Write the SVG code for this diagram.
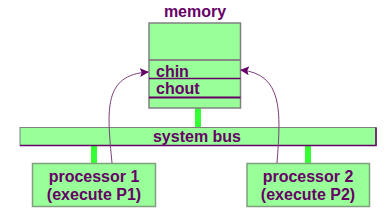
<svg xmlns="http://www.w3.org/2000/svg" width="388" height="213" viewBox="0 0 388 213">
<style>
text{font-family:"Liberation Sans",Arial,sans-serif;font-weight:bold;font-size:16px;fill:#660066}
.box{fill:#99ff99;stroke:#808080;stroke-width:1.5}
.pbox{fill:#99ff99;stroke:#7f9f7f;stroke-width:1.5}
.link{fill:#33ff33}
.conn{fill:none;stroke:#7a3f7a;stroke-width:1}
</style>
<defs>
<marker id="ah" viewBox="0 0 10 10" refX="9" refY="5" markerWidth="9" markerHeight="9" markerUnits="userSpaceOnUse" orient="auto">
<path d="M0,0 L10,5 L0,10 L2,5 z" fill="#660066"/>
</marker>
</defs>
<g id="links">
<rect class="link" x="195" y="108" width="6" height="19"/>
<rect class="link" x="91" y="145" width="6" height="18"/>
<rect class="link" x="305" y="145" width="6" height="18"/>
</g>
<g id="memory">
<text x="195" y="17" text-anchor="middle">memory</text>
<rect class="box" x="149" y="23" width="91.5" height="85"/>
<line x1="149" y1="60" x2="240.5" y2="60" stroke="#806080" stroke-width="1.5"/>
<line x1="149" y1="78.5" x2="240.5" y2="78.5" stroke="#660066" stroke-width="1.5"/>
<line x1="149" y1="97.5" x2="240.5" y2="97.5" stroke="#660066" stroke-width="2"/>
<text x="156" y="76.5">chin</text>
<text x="156" y="94">chout</text>
</g>
<g id="bus">
<rect x="20" y="127.5" width="356" height="18" fill="#99ff99" stroke="#808080" stroke-width="1"/>
<path d="M20,145.5 H376 V127.5" fill="none" stroke="#660066" stroke-width="1.5"/>
<text x="197" y="141.5" text-anchor="middle">system bus</text>
</g>
<g id="processor1">
<rect class="pbox" x="32.5" y="163.5" width="123" height="43"/>
<text x="94" y="181.5" text-anchor="middle">processor 1</text>
<text x="94" y="199.5" text-anchor="middle">(execute P1)</text>
</g>
<g id="processor2">
<rect class="pbox" x="247" y="163.5" width="122.5" height="43"/>
<text x="308" y="181.5" text-anchor="middle">processor 2</text>
<text x="308" y="199.5" text-anchor="middle">(execute P2)</text>
</g>
<g id="connectors">
<path class="conn" d="M112,163 C107,110 103,75 148,72" marker-end="url(#ah)"/>
<path class="conn" d="M277,163 C281,112 283,74 241,70" marker-end="url(#ah)"/>
</g>
</svg>
